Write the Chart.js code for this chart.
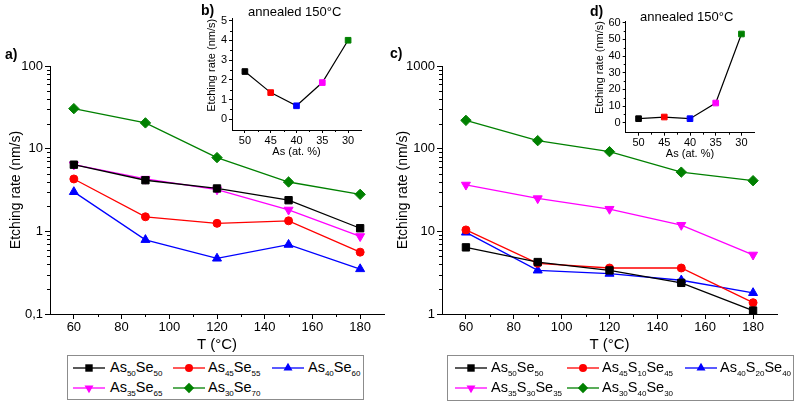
<!DOCTYPE html>
<html><head><meta charset="utf-8">
<script src="https://cdn.jsdelivr.net/npm/chart.js@4.4.1/dist/chart.umd.min.js"></script>
<style>
body{margin:0;background:#fff;width:797px;height:405px;position:relative;overflow:hidden;font-family:"Liberation Sans",Arial,sans-serif;color:#000;}
.cv{position:absolute;}
.t{position:absolute;white-space:nowrap;line-height:16px;}
.b{font-weight:bold;font-size:14px;}
.legbox{position:absolute;border:1px solid #8c8c8c;box-sizing:border-box;}
.li{position:absolute;white-space:nowrap;font-size:14.5px;line-height:18px;}
.li sub{font-size:8px;vertical-align:-4px;line-height:0;}
.li svg{position:absolute;}
</style></head><body>
<canvas id="cA" class="cv" width="400" height="355" style="left:0;top:0"></canvas>
<canvas id="cC" class="cv" width="407" height="355" style="left:390px;top:0"></canvas>
<canvas id="cB" class="cv" width="180" height="160" style="left:190px;top:0"></canvas>
<canvas id="cD" class="cv" width="185" height="165" style="left:580px;top:0"></canvas>
<div class="t b" style="left:5px;top:46px">a)</div>
<div class="t b" style="left:390px;top:45px">c)</div>
<div class="t b" style="left:201px;top:2px">b)</div>
<div class="t b" style="left:590px;top:3px">d)</div>
<div class="t" style="left:248px;top:4px;font-size:13px">annealed 150°C</div>
<div class="t" style="left:640px;top:9px;font-size:13px">annealed 150°C</div>
<div id="legA" class="legbox" style="left:67px;top:355px;width:297px;height:45px"></div>
<div id="legC" class="legbox" style="left:447px;top:355px;width:347px;height:46px"></div>
<div id="legItems"></div>
<script>
// ---- data ----
const temps = [60, 90, 120, 150, 180];
const As50Se50 = [6.4, 4.15, 3.3, 2.38, 1.09];
const As45Se55 = [4.3, 1.5, 1.25, 1.34, 0.56];
const As40Se60 = [3.0, 0.79, 0.47, 0.69, 0.35];
const As35Se65 = [6.4, 4.3, 3.2, 1.82, 0.87];
const As30Se70 = [30.5, 20.5, 7.8, 3.95, 2.8];

const S_As50Se50 = [6.4, 4.25, 3.37, 2.38, 1.1];
const S_As45S10Se45 = [10.4, 4.1, 3.6, 3.6, 1.37];
const S_As40S20Se40 = [9.7, 3.37, 3.08, 2.56, 1.8];
const S_As35S30Se35 = [36.5, 25, 18.6, 11.9, 5.2];
const S_As30S40Se30 = [220, 125, 92, 52, 41];

const asContent = [50, 45, 40, 35, 30];
const annealedB = [2.42, 1.35, 0.68, 1.86, 4.01];
const annealedD = [2.4, 3.4, 2.4, 11.8, 53.2];

// ticks
const tempTicks = [60, 80, 100, 120, 140, 160, 180];
const tempMinor = [70, 90, 110, 130, 150, 170];
const logTicksA = [0.1, 1, 10, 100];
const logTicksC = [1, 10, 100, 1000];
const asTicks = [50, 45, 40, 35, 30];
const asMinor = [47.5, 42.5, 37.5, 32.5];
const bTicks = [0, 1, 2, 3, 4, 5];
const bMinor = [0.5, 1.5, 2.5, 3.5, 4.5];
const dTicks = [0, 10, 20, 30, 40, 50, 60];
const dMinor = [5, 15, 25, 35, 45, 55];

const colors = {black:'#000000', red:'#ff0000', blue:'#0000ff', magenta:'#ff00ff', green:'#008000'};
const FONT = '"Liberation Sans", Arial, sans-serif';

function logMinor(min, max){ const out=[]; for(let d=min; d<max; d*=10){ for(let k=2;k<=9;k++) out.push(+(d*k).toPrecision(3)); } return out; }

const minorTicksPlugin = {
  id:'minorTicks',
  afterDraw(chart, args, opts){
    const ctx = chart.ctx; ctx.save(); ctx.strokeStyle='#000'; ctx.lineWidth=1;
    const len = opts.len || 3;
    ctx.beginPath();
    (opts.x||[]).forEach(v=>{ const sc=chart.scales.x; const p=Math.round(sc.getPixelForValue(v))+0.5; ctx.moveTo(p, sc.top); ctx.lineTo(p, sc.top+len); });
    (opts.y||[]).forEach(v=>{ const sc=chart.scales.y; const p=Math.round(sc.getPixelForValue(v))+0.5; ctx.moveTo(sc.right, p); ctx.lineTo(sc.right-len, p); });
    ctx.stroke(); ctx.restore();
  }
};
Chart.register(minorTicksPlugin);

function pts(xs, ys){ return xs.map((x,i)=>({x:x, y:ys[i]})); }
function ds(label, ys, color, style, r, rot){
  return {label, data:pts(temps, ys), borderColor:color, backgroundColor:color, borderWidth:1.3,
    pointStyle:style, pointRadius:r, pointRotation:rot||0, pointBorderWidth:1, pointBorderColor:color, pointBackgroundColor:color, fill:false, tension:0};
}
function axisCommon(tickLen){
  return {grid:{display:true, drawOnChartArea:false, drawTicks:true, tickLength:tickLen, tickColor:'#000', tickWidth:1},
          border:{display:true, color:'#000', width:1}};
}

function mainChart(id, datasets, yMin, yMax, yTicks, padRight, yWidth, yTitlePad){
  return new Chart(document.getElementById(id), {
    type:'line',
    data:{datasets},
    options:{
      responsive:false, animation:false, devicePixelRatio:1,
      layout:{padding:{left:0, top:66, right:padRight, bottom:0}},
      plugins:{legend:{display:false}, tooltip:{enabled:false}, minorTicks:{x:tempMinor, y:logMinor(yMin,yMax), len:3}},
      scales:{
        x:Object.assign(axisCommon(5), {type:'linear', min:50, max:190,
          afterBuildTicks:(s)=>{s.ticks = tempTicks.map(v=>({value:v}));},
          afterFit:(s)=>{s.height = 41;},
          ticks:{color:'#000', font:{family:FONT, size:13}, padding:1, maxRotation:0, autoSkip:false},
          title:{display:true, text:'T (°C)', color:'#000', font:{family:FONT, size:15}, padding:{top:0,bottom:1}}}),
        y:Object.assign(axisCommon(5), {type:'logarithmic', min:yMin, max:yMax,
          afterBuildTicks:(s)=>{s.ticks = yTicks.map(v=>({value:v, major:true}));},
          afterFit:(s)=>{s.width = yWidth;},
          ticks:{color:'#000', font:{family:FONT, size:13}, padding:2, autoSkip:false,
            callback:(v)=> (v<1 ? String(v).replace('.',',') : String(v))},
          title:{display:true, text:'Etching rate (nm/s)', color:'#000', font:{family:FONT, size:14}, padding:{top:yTitlePad,bottom:0}}})
      }
    }
  });
}

mainChart('cA', [
  ds('As50Se50', As50Se50, colors.black, 'rect', 5.2),
  ds('As45Se55', As45Se55, colors.red, 'circle', 4),
  ds('As40Se60', As40Se60, colors.blue, 'triangle', 5.2),
  ds('As35Se65', As35Se65, colors.magenta, 'triangle', 5.2, 180),
  ds('As30Se70', As30Se70, colors.green, 'rectRot', 5.2)
], 0.1, 100, logTicksA, 16, 50, 7.6);

mainChart('cC', [
  ds('As50Se50', S_As50Se50, colors.black, 'rect', 5.2),
  ds('As45S10Se45', S_As45S10Se45, colors.red, 'circle', 4),
  ds('As40S20Se40', S_As40S20Se40, colors.blue, 'triangle', 5.2),
  ds('As35S30Se35', S_As35S30Se35, colors.magenta, 'triangle', 5.2, 180),
  ds('As30S40Se30', S_As30S40Se30, colors.green, 'rectRot', 5.2)
], 1, 1000, logTicksC, 20, 52, 4.6);

function insetChart(id, ys, yMin, yMax, yTicks, yMinor, padTop, padRight, yWidth, xHeight, yTitlePad, xTitlePad){
  const ptColors = [colors.black, colors.red, colors.blue, colors.magenta, colors.green];
  return new Chart(document.getElementById(id), {
    type:'line',
    data:{datasets:[{data:pts(asContent, ys), borderColor:'#000', borderWidth:1.2, pointStyle:'rect', pointRadius:4,
      pointBackgroundColor:ptColors, pointBorderColor:ptColors, pointBorderWidth:1, fill:false, tension:0}]},
    options:{
      responsive:false, animation:false, devicePixelRatio:1,
      layout:{padding:{left:0, top:padTop, right:padRight, bottom:0}},
      plugins:{legend:{display:false}, tooltip:{enabled:false}, minorTicks:{x:asMinor, y:yMinor, len:2}},
      scales:{
        x:Object.assign(axisCommon(3), {type:'linear', reverse:true, min:27.5, max:52.5,
          afterBuildTicks:(s)=>{s.ticks = asTicks.map(v=>({value:v}));},
          afterFit:(s)=>{s.height = xHeight;},
          ticks:{color:'#000', font:{family:FONT, size:11}, padding:1, maxRotation:0, autoSkip:false},
          title:{display:true, text:'As (at. %)', color:'#000', font:{family:FONT, size:11}, padding:{top:0,bottom:xTitlePad}}}),
        y:Object.assign(axisCommon(3), {type:'linear', min:yMin, max:yMax,
          afterBuildTicks:(s)=>{s.ticks = yTicks.map(v=>({value:v}));},
          afterFit:(s)=>{s.width = yWidth;},
          ticks:{color:'#000', font:{family:FONT, size:11}, padding:2, autoSkip:false},
          title:{display:true, text:'Etching rate (nm/s)', align:'end', color:'#000', font:{family:FONT, size:11}, padding:{top:yTitlePad,bottom:0}}})
      }
    }
  });
}
insetChart('cB', annealedB, -0.55, 5.1, bTicks, bMinor, 18.8, 9, 42, 30, 15.4, 1.7);
insetChart('cD', annealedD, -6, 61, dTicks, dMinor, 21, 10.7, 45.7, 32.3, 13.1, 4.4);

// ---- HTML legends ----
const legendA = [
  {html:'As<sub>50</sub>Se<sub>50</sub>', c:colors.black, m:'sq', lx:73, tx:110, y:368},
  {html:'As<sub>45</sub>Se<sub>55</sub>', c:colors.red, m:'ci', lx:173, tx:208, y:368},
  {html:'As<sub>40</sub>Se<sub>60</sub>', c:colors.blue, m:'tu', lx:272, tx:308, y:368},
  {html:'As<sub>35</sub>Se<sub>65</sub>', c:colors.magenta, m:'td', lx:73, tx:110, y:388},
  {html:'As<sub>30</sub>Se<sub>70</sub>', c:colors.green, m:'di', lx:173, tx:208, y:388}
];
const legendC = [
  {html:'As<sub>50</sub>Se<sub>50</sub>', c:colors.black, m:'sq', lx:455, tx:491, y:368},
  {html:'As<sub>45</sub>S<sub>10</sub>Se<sub>45</sub>', c:colors.red, m:'ci', lx:567, tx:602, y:368},
  {html:'As<sub>40</sub>S<sub>20</sub>Se<sub>40</sub>', c:colors.blue, m:'tu', lx:685, tx:720, y:368},
  {html:'As<sub>35</sub>S<sub>30</sub>Se<sub>35</sub>', c:colors.magenta, m:'td', lx:455, tx:491, y:388},
  {html:'As<sub>30</sub>S<sub>40</sub>Se<sub>30</sub>', c:colors.green, m:'di', lx:567, tx:602, y:388}
];
function marker(m, c){
  const cx=16, cy=6;
  if(m==='sq') return `<rect x="${cx-3.7}" y="${cy-3.7}" width="7.4" height="7.4" fill="${c}"/>`;
  if(m==='ci') return `<circle cx="${cx}" cy="${cy}" r="4" fill="${c}"/>`;
  if(m==='tu') return `<polygon points="${cx},${cy-5.2} ${cx+4.5},${cy+2.6} ${cx-4.5},${cy+2.6}" fill="${c}"/>`;
  if(m==='td') return `<polygon points="${cx},${cy+5.2} ${cx+4.5},${cy-2.6} ${cx-4.5},${cy-2.6}" fill="${c}"/>`;
  return `<polygon points="${cx},${cy-5.2} ${cx+5.2},${cy} ${cx},${cy+5.2} ${cx-5.2},${cy}" fill="${c}"/>`;
}
const holder = document.getElementById('legItems');
[...legendA, ...legendC].forEach(it=>{
  const s = document.createElement('div');
  s.innerHTML = `<svg width="32" height="12" style="left:${it.lx}px;top:${it.y-6}px;position:absolute"><line x1="0" y1="6" x2="32" y2="6" stroke="${it.c}" stroke-width="1.3"/>${marker(it.m,it.c)}</svg>`;
  holder.appendChild(s.firstChild);
  const t = document.createElement('div');
  t.className='li'; t.style.left=it.tx+'px'; t.style.top=(it.y-10)+'px'; t.innerHTML=it.html;
  holder.appendChild(t);
});
</script>
</body></html>
